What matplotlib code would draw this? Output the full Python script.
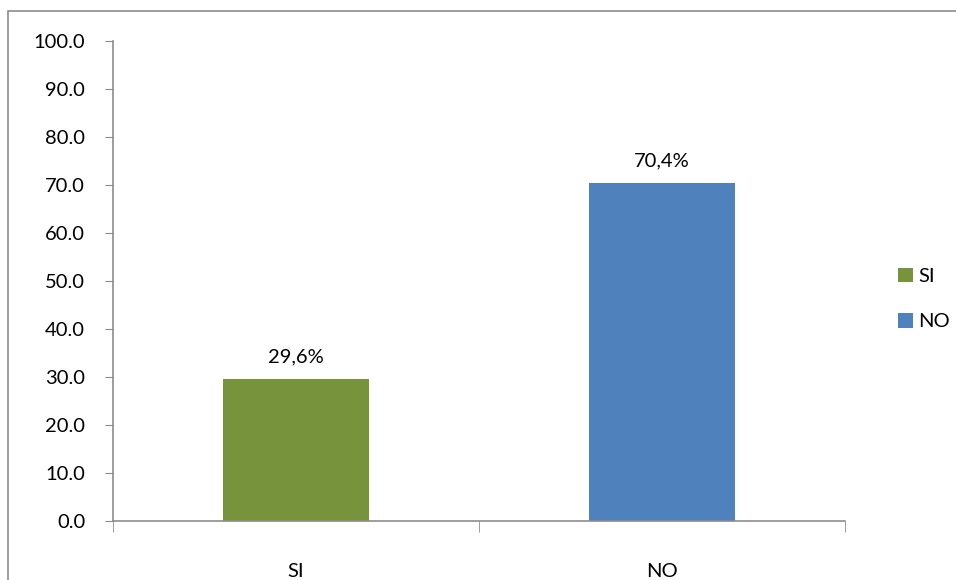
import matplotlib
matplotlib.use("Agg")
import matplotlib.pyplot as plt
from matplotlib.patches import Rectangle, Patch

categories = ["SI", "NO"]
values = [29.6, 70.4]
labels = ["29,6%", "70,4%"]
colors = ["#77933C", "#4F81BD"]
yticks = [0, 10, 20, 30, 40, 50, 60, 70, 80, 90, 100]

plt.rcParams['font.family'] = ['Lato', 'DejaVu Sans']
FS = 14.5

W, H = 956, 580
fig = plt.figure(figsize=(W / 100, H / 100), dpi=100)

# outer border (cropped at right and bottom)
fig.patches.append(Rectangle((8 / W, -0.05), 1.2, 1 - 11 / H + 0.05,
                             transform=fig.transFigure, fill=False,
                             edgecolor="#8C8C8C", linewidth=1.2))

ax = fig.add_axes([113 / W, 1 - 521 / H, (845 - 113) / W, (521 - 41) / H])
x = list(range(len(categories)))
bars = ax.bar(x, values, width=0.4, color=colors)
ax.set_xlim(-0.5, len(categories) - 0.5)
ax.set_ylim(0, 100)
ax.set_yticks(yticks)
ax.set_yticklabels([f"{v:.1f}" for v in yticks], fontsize=FS)
ax.set_xticks(x)
ax.set_xticklabels(categories, fontsize=FS)
ax.tick_params(axis='x', length=0, pad=30)
ax.tick_params(axis='y', length=6, color="#8C8C8C", pad=14, direction='out')
ax.set_xticks([-0.5, 0.5, 1.5], minor=True)
ax.tick_params(axis='x', which='minor', length=8, color="#8C8C8C", direction='out')

for s in ["top", "right"]:
    ax.spines[s].set_visible(False)
for s in ["left", "bottom"]:
    ax.spines[s].set_color("#8C8C8C")
    ax.spines[s].set_linewidth(1.2)

for xi, v, lab in zip(x, values, labels):
    ax.annotate(lab, (xi, v), xytext=(0, 14), textcoords="offset pixels",
                ha="center", va="bottom", fontsize=FS)

handles = [Patch(facecolor=c, label=cat) for c, cat in zip(colors, categories)]
fig.legend(handles=handles, loc="center left", bbox_to_anchor=(880 / W, 1 - 299 / H),
           frameon=False, fontsize=FS, handlelength=0.75, handleheight=0.75,
           handletextpad=0.25, labelspacing=1.4)

fig.savefig("out.png", dpi=100)
